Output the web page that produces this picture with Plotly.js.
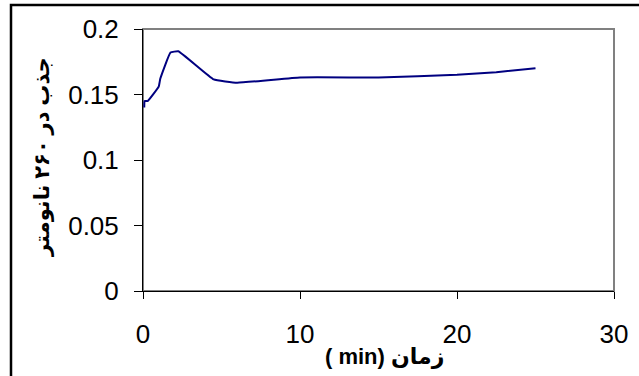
<!DOCTYPE html>
<html>
<head>
<meta charset="utf-8">
<script src="https://cdn.plot.ly/plotly-3.0.1.min.js"></script>
<style>html,body{margin:0;padding:0;background:#fff;}#chart{width:639px;height:376px;}</style>
</head>
<body>
<div id="chart"></div>
<script>
const timeMin = [0.08, 0.1, 0.3, 1, 1.1, 1.75, 2.25, 4.5, 6, 10, 15, 20, 22.5, 25];
const absorbance = [0.14, 0.145, 0.145, 0.156, 0.162, 0.182, 0.183, 0.1615, 0.159, 0.163, 0.163, 0.165, 0.167, 0.17];
const xTicks = [0, 10, 20, 30];
const xTickLabels = ['0', '10', '20', '30'];
const yTicks = [0, 0.05, 0.1, 0.15, 0.2];
const yTickLabels = ['0', '0.05', '0.1', '0.15', '0.2'];
const xTitle = '( min) زمان';
const yTitle = 'جذب در ۲۶۰ نانومتر';

const L = 143, R = 614, T = 29, B = 291;
const W = R - L, H = B - T;
const px = v => (v - L) / W;
const py = v => (B - v) / H;

const trace = {
  x: timeMin, y: absorbance, type: 'scatter', mode: 'lines',
  line: {color: '#000080', width: 2, shape: 'spline', smoothing: 0.3},
  hoverinfo: 'none'
};

const fontTick = {family: 'Liberation Sans, Arial, sans-serif', size: 26, color: '#000'};
const fontTitle = {family: 'Liberation Sans, DejaVu Sans, sans-serif', size: 21, color: '#000', weight: 'bold'};

const layout = {
  width: 639, height: 376,
  margin: {l: L, r: 639 - R, t: T, b: 376 - B, pad: 0},
  paper_bgcolor: '#fff', plot_bgcolor: '#fff',
  showlegend: false,
  xaxis: {
    range: [0, 30], tickvals: xTicks, ticktext: xTickLabels,
    showgrid: false, zeroline: false, showline: true, linecolor: '#000', linewidth: 1,
    ticks: 'outside', ticklen: 7, tickcolor: '#000', tickfont: fontTick, ticklabelstandoff: 13
  },
  yaxis: {
    range: [0, 0.2], tickvals: yTicks, ticktext: yTickLabels,
    showgrid: false, zeroline: false, showline: true, linecolor: '#000', linewidth: 1,
    ticks: 'outside', ticklen: 8, tickcolor: '#000', tickfont: fontTick, ticklabelstandoff: 10
  },
  shapes: [
    {type: 'rect', xref: 'paper', yref: 'paper', x0: 0, x1: 1, y0: 0, y1: 1,
     line: {color: '#808080', width: 2}, layer: 'below'},
    {type: 'rect', xref: 'paper', yref: 'paper', x0: px(11), x1: px(660), y0: py(5), y1: py(400),
     line: {color: '#000', width: 2.5}, layer: 'above'}
  ],
  annotations: [
    {text: xTitle, xref: 'paper', yref: 'paper', x: px(384), y: py(357), xanchor: 'center', yanchor: 'middle',
     showarrow: false, font: {family: fontTitle.family, size: 22, color: '#000', weight: 'bold'}},
    {text: yTitle, xref: 'paper', yref: 'paper', x: px(42), y: py(157), xanchor: 'center', yanchor: 'middle',
     showarrow: false, textangle: -90, font: fontTitle}
  ]
};

Plotly.newPlot('chart', [trace], layout, {staticPlot: true, displayModeBar: false});
</script>
</body>
</html>
